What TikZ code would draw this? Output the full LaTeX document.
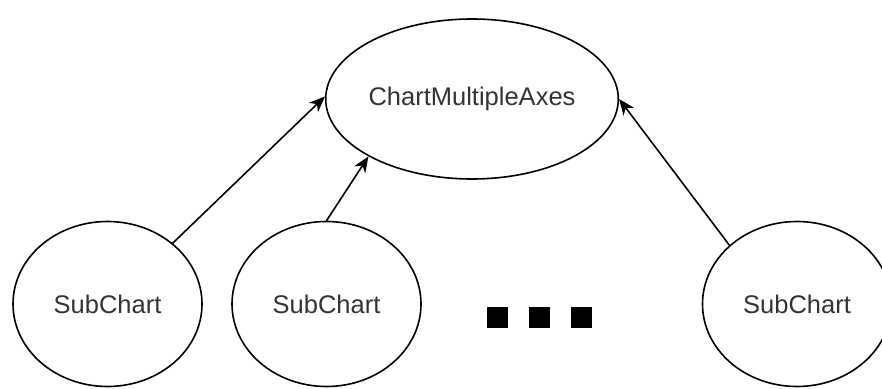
\documentclass[tikz,border=0pt]{standalone}
\usepackage{fontspec}
\setmainfont{Liberation Sans}
\usetikzlibrary{arrows.meta,shapes}

\begin{document}
\begin{tikzpicture}[x=0.5pt, y=-0.5pt, line width=0.8pt]
      \tikzstyle{every node}=[ellipse, draw=black, text=black!80,
        font=\fontsize{12.75}{15}\selectfont, inner sep=0pt]
      \tikzstyle{subchart}=[minimum width=94.5pt, minimum height=82.5pt]
      \tikzstyle{gapsquare}=[rectangle, draw=none, fill=black,
        minimum size=10.5pt]
      \tikzstyle{link}=[-{Stealth[length=8pt,width=6.5pt,inset=2.5pt]}]
      \useasboundingbox (0,0) rectangle (882,389);
      \node[minimum width=146pt, minimum height=80pt] at (472,99) (axes)
        {ChartMultipleAxes};
      \node[subchart] at (107.5,304) (sub1) {SubChart};
      \node[subchart] at (326.5,304) (sub2) {SubChart};
      \node[subchart] at (797,304) (sub3) {SubChart};
      \foreach \s/\x in {1/497.5,2/539,3/581} {
        \node[gapsquare] at (\x,317.5) (gap\s) {};
      }
      \draw[link] (sub1.43)   -- (axes.179);
      \draw[link] (sub2.north) -- (axes.209);
      \draw[link] (sub3.139)  -- (axes.east);
    \end{tikzpicture}
\end{document}
